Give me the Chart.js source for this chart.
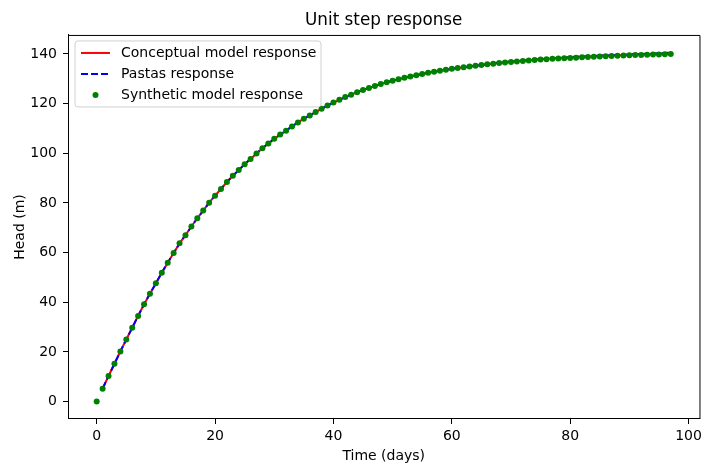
<!DOCTYPE html>
<html>
<head>
<meta charset="utf-8">
<script src="https://cdn.jsdelivr.net/npm/chart.js@4/dist/chart.umd.min.js"></script>
<style>
  html, body { margin: 0; padding: 0; background: #fff; }
  #wrap { width: 706px; height: 463px; }
</style>
</head>
<body>
<div id="wrap"><canvas id="chart" width="706" height="463"></canvas></div>
<script>
// Synthetic model response, one value per day (t = 0 .. 97)
const synthetic = [
  0, 5.2, 10.3, 15.2, 20.2, 25.0, 29.7, 34.5, 39.2, 43.4,
  47.6, 51.9, 55.9, 59.8, 63.7, 67.0, 70.5, 73.8, 76.9, 80.1,
  82.9, 85.6, 88.4, 90.9, 93.2, 95.6, 97.7, 99.9, 102.0, 103.9,
  105.8, 107.5, 109.1, 110.8, 112.4, 113.9, 115.2, 116.6, 117.9, 119.2,
  120.4, 121.5, 122.6, 123.6, 124.6, 125.5, 126.3, 127.1, 127.9, 128.6,
  129.2, 129.8, 130.4, 130.9, 131.4, 131.9, 132.4, 132.8, 133.2, 133.6,
  134.0, 134.3, 134.6, 134.9, 135.2, 135.5, 135.8, 136.0, 136.3, 136.5,
  136.7, 136.9, 137.1, 137.3, 137.5, 137.7, 137.8, 138.0, 138.1, 138.3,
  138.4, 138.5, 138.7, 138.8, 138.9, 139.0, 139.1, 139.2, 139.3, 139.4,
  139.5, 139.6, 139.6, 139.7, 139.8, 139.8, 139.9, 140.0
];

// Conceptual model response, t = 1 .. 97
const conceptual = [
  5.2, 10.3, 15.2, 20.2, 25.0, 29.7, 34.5, 39.2, 43.4,
  47.6, 51.9, 55.9, 59.8, 63.7, 67.0, 70.5, 73.8, 76.9, 80.1,
  82.9, 85.6, 88.4, 90.9, 93.2, 95.6, 97.7, 99.9, 102.0, 103.9,
  105.8, 107.5, 109.1, 110.8, 112.4, 113.9, 115.2, 116.6, 117.9, 119.2,
  120.4, 121.5, 122.6, 123.6, 124.6, 125.5, 126.3, 127.1, 127.9, 128.6,
  129.2, 129.8, 130.4, 130.9, 131.4, 131.9, 132.4, 132.8, 133.2, 133.6,
  134.0, 134.3, 134.6, 134.9, 135.2, 135.5, 135.8, 136.1, 136.4, 136.6,
  136.8, 137.0, 137.2, 137.4, 137.6, 137.8, 138.0, 138.2, 138.3, 138.5,
  138.6, 138.8, 138.9, 139.0, 139.1, 139.2, 139.3, 139.4, 139.5, 139.6,
  139.7, 139.8, 139.9, 140.0, 140.0, 140.1, 140.2, 140.3
];

// Pastas response, t = 1 .. 97
const pastas = [
  5.2, 10.3, 15.2, 20.2, 25.0, 29.7, 34.5, 39.2, 43.4,
  47.6, 51.9, 55.9, 59.8, 63.7, 67.0, 70.5, 73.8, 76.9, 80.1,
  82.9, 85.6, 88.4, 90.9, 93.2, 95.6, 97.7, 99.9, 102.0, 103.9,
  105.8, 107.5, 109.1, 110.8, 112.4, 113.9, 115.2, 116.6, 117.9, 119.2,
  120.4, 121.5, 122.6, 123.6, 124.6, 125.5, 126.3, 127.1, 127.9, 128.6,
  129.2, 129.8, 130.4, 130.9, 131.4, 131.9, 132.4, 132.8, 133.2, 133.6,
  134.0, 134.3, 134.6, 134.9, 135.2, 135.5, 135.8, 136.1, 136.4, 136.7,
  136.9, 137.1, 137.3, 137.5, 137.7, 137.9, 138.1, 138.3, 138.4, 138.6,
  138.7, 138.9, 139.0, 139.1, 139.2, 139.3, 139.4, 139.5, 139.6, 139.7,
  139.8, 139.9, 140.0, 140.1, 140.2, 140.3, 140.4, 140.5
];

const seriesNames = ['Conceptual model response', 'Pastas response', 'Synthetic model response'];
const xTicks = [0, 20, 40, 60, 80, 100];
const yTicks = [0, 20, 40, 60, 80, 100, 120, 140];

const FONT = 'DejaVu Sans';

function toPoints(values, firstDay) {
  return values.map((v, i) => ({ x: firstDay + i, y: v }));
}

// legend drawn inside the axes (upper left), matplotlib style
const innerLegend = {
  id: 'innerLegend',
  afterDraw(chart) {
    const ctx = chart.ctx;
    const area = chart.chartArea;
    const x0 = area.left + 7, y0 = area.top + 6, w = 246, h = 66, r = 3;
    ctx.save();
    ctx.beginPath();
    ctx.moveTo(x0 + r, y0);
    ctx.arcTo(x0 + w, y0, x0 + w, y0 + h, r);
    ctx.arcTo(x0 + w, y0 + h, x0, y0 + h, r);
    ctx.arcTo(x0, y0 + h, x0, y0, r);
    ctx.arcTo(x0, y0, x0 + w, y0, r);
    ctx.closePath();
    ctx.fillStyle = 'rgba(255,255,255,0.8)';
    ctx.fill();
    ctx.strokeStyle = '#d0d0d0';
    ctx.lineWidth = 1;
    ctx.stroke();

    chart.data.datasets.forEach((ds, i) => {
      const cy = y0 + 12 + i * 21;
      const sx = x0 + 6, ex = x0 + 35;
      if (ds.showLine) {
        ctx.beginPath();
        ctx.setLineDash(ds.borderDash || []);
        ctx.strokeStyle = ds.borderColor;
        ctx.lineWidth = ds.borderWidth;
        ctx.moveTo(sx, cy);
        ctx.lineTo(ex, cy);
        ctx.stroke();
        ctx.setLineDash([]);
      } else {
        ctx.beginPath();
        ctx.fillStyle = ds.pointBackgroundColor;
        ctx.arc((sx + ex) / 2, cy, ds.pointRadius, 0, Math.PI * 2);
        ctx.fill();
      }
      ctx.fillStyle = '#000';
      ctx.font = '14px "' + FONT + '"';
      ctx.textBaseline = 'middle';
      ctx.textAlign = 'left';
      ctx.fillText(ds.label, x0 + 46, cy);
    });
    ctx.restore();
  }
};

// top and right spines
const frame = {
  id: 'frame',
  afterDraw(chart) {
    const { ctx, chartArea: a } = chart;
    ctx.save();
    ctx.strokeStyle = '#000';
    ctx.lineWidth = 1;
    ctx.beginPath();
    ctx.moveTo(a.left, a.top + 0.5);
    ctx.lineTo(a.right + 0.5, a.top + 0.5);
    ctx.lineTo(a.right + 0.5, a.bottom);
    ctx.stroke();
    ctx.restore();
  }
};

const ctx = document.getElementById('chart').getContext('2d');
new Chart(ctx, {
  type: 'scatter',
  data: {
    datasets: [
      {
        label: seriesNames[0],
        data: toPoints(conceptual, 1),
        showLine: true,
        borderColor: '#ff0000',
        borderWidth: 2,
        pointRadius: 0,
        fill: false,
        order: 3
      },
      {
        label: seriesNames[1],
        data: toPoints(pastas, 1),
        showLine: true,
        borderColor: '#0000ff',
        borderWidth: 2,
        borderDash: [7, 3],
        pointRadius: 0,
        fill: false,
        order: 2
      },
      {
        label: seriesNames[2],
        data: toPoints(synthetic, 0),
        showLine: false,
        pointRadius: 3,
        pointBackgroundColor: '#008000',
        pointBorderWidth: 0,
        borderColor: '#008000',
        order: 1
      }
    ]
  },
  options: {
    responsive: false,
    animation: false,
    layout: { padding: { left: 0, right: 5, top: 0, bottom: 0 } },
    plugins: {
      legend: { display: false },
      tooltip: { enabled: false },
      title: {
        display: true,
        text: 'Unit step response',
        fullSize: false,
        color: '#000',
        font: { family: FONT, size: 16.8, weight: 'normal' },
        padding: { top: 11, bottom: 3.8 }
      }
    },
    scales: {
      x: {
        type: 'linear',
        min: -4.85,
        max: 101.85,
        afterFit: s => { s.height = 44; },
        afterBuildTicks: s => { s.ticks = xTicks.map(v => ({ value: v })); },
        grid: { display: true, drawOnChartArea: false, drawTicks: true, tickLength: 5, tickColor: '#000' },
        border: { display: true, color: '#000', width: 1 },
        ticks: { color: '#000', font: { family: FONT, size: 14 }, padding: 4, maxRotation: 0 },
        title: { display: true, text: 'Time (days)', color: '#000', font: { family: FONT, size: 14 }, padding: { top: 0, bottom: -1.5 } }
      },
      y: {
        type: 'linear',
        min: -7.03,
        max: 147.63,
        afterFit: s => { s.width = 68; },
        afterBuildTicks: s => { s.ticks = yTicks.map(v => ({ value: v })); },
        grid: { display: true, drawOnChartArea: false, drawTicks: true, tickLength: 5, tickColor: '#000' },
        border: { display: true, color: '#000', width: 1 },
        ticks: { color: '#000', font: { family: FONT, size: 14 }, padding: 6 },
        title: { display: true, text: 'Head (m)', color: '#000', font: { family: FONT, size: 14 }, padding: { top: 11.6, bottom: 0 } }
      }
    }
  },
  plugins: [innerLegend, frame]
});
</script>
</body>
</html>
